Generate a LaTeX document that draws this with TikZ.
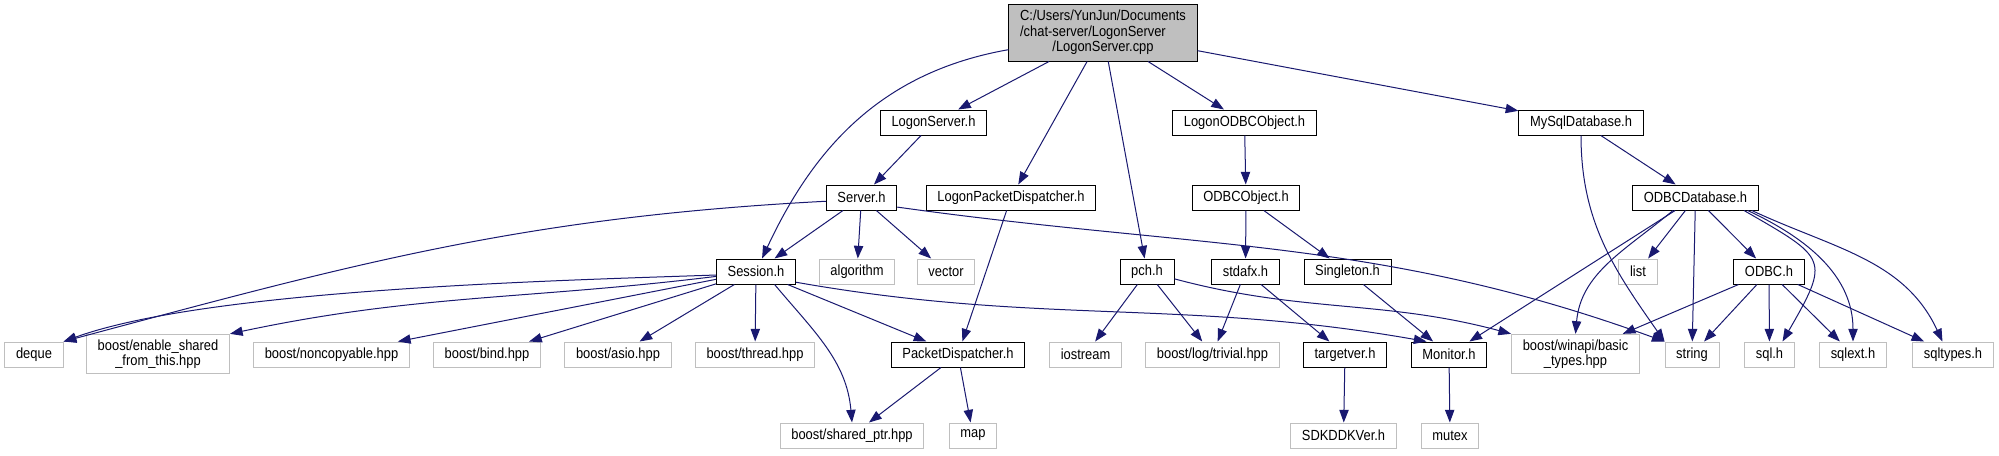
\documentclass[tikz,border=0pt]{standalone}
\usepackage{fontspec}
\setmainfont{Liberation Sans}[FakeStretch=0.88]
\definecolor{edgeblue}{HTML}{191970}
\definecolor{extgray}{HTML}{BFBFBF}
\usetikzlibrary{arrows.meta}

\begin{document}
\begin{tikzpicture}[x=0.75pt, y=-0.75pt,
  filebox/.style={draw=black, fill=white, line width=0.75pt,
              font=\fontsize{11}{11.25}\selectfont, align=center,
              inner xsep=8.4pt, inner ysep=4pt, minimum height=18.75pt},
  extbox/.style={filebox, draw=extgray},
  rootbox/.style={filebox, fill=extgray},
  dep/.style={draw=edgeblue, color=edgeblue, line width=0.75pt,
              -{Triangle[length=9.5pt,width=7pt]}},
]
\path[use as bounding box, fill=white] (0,0) rectangle (1999,455);

\node[rootbox] (root) at (1103,33) {\begin{tabular}{@{}l@{}}C:/Users/YunJun/Documents\\/chat-server/LogonServer\\\multicolumn{1}{@{}c@{}}{/LogonServer.cpp}\end{tabular}};

\node[filebox] (logonserver) at (933.5,122.5) {LogonServer.h};
\node[filebox] (logonodbc) at (1244.5,122.5) {LogonODBCObject.h};
\node[filebox] (mysqldb) at (1581,122.5) {MySqlDatabase.h};

\node[filebox] (server) at (861.5,197.5) {Server.h};
\node[filebox] (logondisp) at (1011,197.5) {LogonPacketDispatcher.h};
\node[filebox] (odbcobj) at (1246,197.5) {ODBCObject.h};
\node[filebox] (odbcdb) at (1695.5,197.5) {ODBCDatabase.h};

\node[filebox] (session) at (756,271.5) {Session.h};
\node[extbox] (algorithm) at (857,271.5) {algorithm};
\node[extbox] (vector) at (946,271.5) {vector};
\node[filebox] (pch) at (1147,271.5) {pch.h};
\node[filebox] (stdafx) at (1245.5,271.5) {stdafx.h};
\node[filebox] (singleton) at (1347.5,271.5) {Singleton.h};
\node[extbox] (list) at (1638,271.5) {list};
\node[filebox] (odbc) at (1769,271.5) {ODBC.h};

\node[extbox] (deque) at (34,354.5) {deque};
\node[extbox] (enableshared) at (158,354) {boost/enable\_shared\\\_from\_this.hpp};
\node[extbox] (noncopy) at (331.5,354.5) {boost/noncopyable.hpp};
\node[extbox] (bind) at (487,354.5) {boost/bind.hpp};
\node[extbox] (asio) at (618,354.5) {boost/asio.hpp};
\node[extbox] (thread) at (755,354.5) {boost/thread.hpp};
\node[filebox] (pktdisp) at (958,354.5) {PacketDispatcher.h};
\node[extbox] (iostream) at (1085.5,354.5) {iostream};
\node[extbox] (trivial) at (1212.5,354.5) {boost/log/trivial.hpp};
\node[filebox] (targetver) at (1345,354.5) {targetver.h};
\node[filebox] (monitor) at (1449,354.5) {Monitor.h};
\node[extbox] (basictypes) at (1575.5,354) {boost/winapi/basic\\\_types.hpp};
\node[extbox] (string) at (1692,354.5) {string};
\node[extbox] (sqlh) at (1769.5,354.5) {sql.h};
\node[extbox] (sqlext) at (1853,354.5) {sqlext.h};
\node[extbox] (sqltypes) at (1953,354.5) {sqltypes.h};

\node[extbox] (sharedptr) at (852,435.5) {boost/shared\_ptr.hpp};
\node[extbox] (map) at (973,435.5) {map};
\node[extbox] (sdkddk) at (1343.5,435.5) {SDKDDKVer.h};
\node[extbox] (mutex) at (1450,435.5) {mutex};

\draw[dep] (root.190) to[out=190,in=65] (session);
\draw[dep] (root) -- (logonserver);
\draw[dep] (root) -- (logondisp);
\draw[dep] (root) -- (pch);
\draw[dep] (root) -- (logonodbc);
\draw[dep] (root) -- (mysqldb);

\draw[dep] (logonserver) -- (server);
\draw[dep] (logondisp) -- (pktdisp);
\draw[dep] (logonodbc) -- (odbcobj);
\draw[dep] (mysqldb) -- (odbcdb);
\draw[dep] (mysqldb) to[out=-90,in=125] (string.north west);

\draw[dep] (server.186) to[out=183,in=15] (deque.north east);
\draw[dep] (server) -- (session);
\draw[dep] (server) -- (algorithm);
\draw[dep] (server) -- (vector);
\draw[dep] (server.-15) to[out=-8,in=160] (string.north west);

\draw[dep] (odbcobj) -- (stdafx);
\draw[dep] (odbcobj) -- (singleton);

\draw[dep] (odbcdb) -- (monitor);
\draw[dep] (odbcdb.-150) to[out=-140,in=85] (basictypes.north);
\draw[dep] (odbcdb) -- (list);
\draw[dep] (odbcdb) -- (string);
\draw[dep] (odbcdb) -- (odbc);
\draw[dep] (odbcdb.-15) to[out=-30,in=60,looseness=1.8] (sqlh.45);
\draw[dep] (odbcdb.-14) to[out=-25,in=90] (sqlext.north);
\draw[dep] (odbcdb.-13) to[out=-25,in=115] (sqltypes.129);

\draw[dep] (session.185) to[out=182,in=20,looseness=0.6] (deque.north east);
\draw[dep] (session.187) to[out=187,in=12] (enableshared.north east);
\draw[dep] (session) -- (noncopy);
\draw[dep] (session) -- (bind);
\draw[dep] (session) -- (asio);
\draw[dep] (session) -- (thread);
\draw[dep] (session.-35) to[out=-50,in=95] (sharedptr.north);
\draw[dep] (session) -- (pktdisp);
\draw[dep] (session.-15) to[out=-10,in=170] (monitor.150);

\draw[dep] (pch) -- (iostream);
\draw[dep] (pch) -- (trivial);
\draw[dep] (pch.-15) to[out=-15,in=165] (basictypes.north west);
\draw[dep] (stdafx) -- (trivial);
\draw[dep] (stdafx) -- (targetver);
\draw[dep] (singleton) -- (monitor);
\draw[dep] (odbc) -- (basictypes);
\draw[dep] (odbc) -- (string);
\draw[dep] (odbc) -- (sqlh);
\draw[dep] (odbc) -- (sqlext);
\draw[dep] (odbc) -- (sqltypes);

\draw[dep] (pktdisp) -- (sharedptr);
\draw[dep] (pktdisp) -- (map);
\draw[dep] (targetver) -- (sdkddk);
\draw[dep] (monitor) -- (mutex);
\end{tikzpicture}
\end{document}
